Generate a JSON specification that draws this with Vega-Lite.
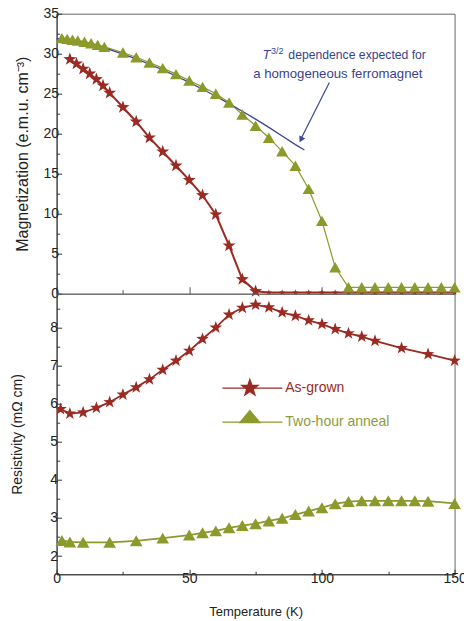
{
  "$schema": "https://vega.github.io/schema/vega-lite/v6.json",
  "padding": {"left": 9.6, "top": 5.7, "right": 0, "bottom": 1},
  "background": "white",
  "spacing": 0,
  "bounds": "flush",
  "config": {
    "font": "Liberation Sans, Arial, sans-serif",
    "view": {"stroke": "#666", "strokeWidth": 1},
    "axis": {"grid": false, "labelFontSize": 14, "labelColor": "#222", "titleFontWeight": "normal", "titleColor": "#222", "domainColor": "#333", "tickColor": "#333", "labelOverlap": false, "labelFlush": false, "minExtent": 0}
  },
  "resolve": {"scale": {"y": "independent"}, "legend": {"color": "independent"}},
  "datasets": {
    "mag": [
      {"sample": "As-grown", "T": 5, "M": 29.3},
      {"sample": "As-grown", "T": 7.5, "M": 28.75},
      {"sample": "As-grown", "T": 10, "M": 28.1},
      {"sample": "As-grown", "T": 12.5, "M": 27.5},
      {"sample": "As-grown", "T": 15, "M": 26.8},
      {"sample": "As-grown", "T": 17.5, "M": 26.0},
      {"sample": "As-grown", "T": 20, "M": 25.1},
      {"sample": "As-grown", "T": 25, "M": 23.3},
      {"sample": "As-grown", "T": 30, "M": 21.5},
      {"sample": "As-grown", "T": 35, "M": 19.5},
      {"sample": "As-grown", "T": 40, "M": 17.75},
      {"sample": "As-grown", "T": 45, "M": 16.0},
      {"sample": "As-grown", "T": 50, "M": 14.2},
      {"sample": "As-grown", "T": 55, "M": 12.3},
      {"sample": "As-grown", "T": 60, "M": 9.9},
      {"sample": "As-grown", "T": 65, "M": 6.0},
      {"sample": "As-grown", "T": 70, "M": 1.8},
      {"sample": "As-grown", "T": 75, "M": 0.3},
      {"sample": "As-grown", "T": 80, "M": 0.15},
      {"sample": "As-grown", "T": 85, "M": 0.15},
      {"sample": "As-grown", "T": 90, "M": 0.15},
      {"sample": "As-grown", "T": 95, "M": 0.15},
      {"sample": "As-grown", "T": 100, "M": 0.15},
      {"sample": "As-grown", "T": 105, "M": 0.15},
      {"sample": "As-grown", "T": 110, "M": 0.15},
      {"sample": "As-grown", "T": 115, "M": 0.15},
      {"sample": "As-grown", "T": 120, "M": 0.15},
      {"sample": "As-grown", "T": 125, "M": 0.15},
      {"sample": "As-grown", "T": 130, "M": 0.15},
      {"sample": "As-grown", "T": 135, "M": 0.15},
      {"sample": "As-grown", "T": 140, "M": 0.15},
      {"sample": "As-grown", "T": 145, "M": 0.15},
      {"sample": "As-grown", "T": 150, "M": 0.15},
      {"sample": "Two-hour anneal", "T": 2, "M": 31.95},
      {"sample": "Two-hour anneal", "T": 4, "M": 31.85},
      {"sample": "Two-hour anneal", "T": 6, "M": 31.75},
      {"sample": "Two-hour anneal", "T": 8, "M": 31.65},
      {"sample": "Two-hour anneal", "T": 10.5, "M": 31.5},
      {"sample": "Two-hour anneal", "T": 13, "M": 31.3},
      {"sample": "Two-hour anneal", "T": 15.5, "M": 31.1},
      {"sample": "Two-hour anneal", "T": 18, "M": 30.85},
      {"sample": "Two-hour anneal", "T": 25, "M": 30.15},
      {"sample": "Two-hour anneal", "T": 30, "M": 29.55},
      {"sample": "Two-hour anneal", "T": 35, "M": 28.9},
      {"sample": "Two-hour anneal", "T": 40, "M": 28.2},
      {"sample": "Two-hour anneal", "T": 45, "M": 27.45},
      {"sample": "Two-hour anneal", "T": 50, "M": 26.65},
      {"sample": "Two-hour anneal", "T": 55, "M": 25.85},
      {"sample": "Two-hour anneal", "T": 60, "M": 25.0},
      {"sample": "Two-hour anneal", "T": 65, "M": 23.9},
      {"sample": "Two-hour anneal", "T": 70, "M": 22.4},
      {"sample": "Two-hour anneal", "T": 75, "M": 21.0},
      {"sample": "Two-hour anneal", "T": 80, "M": 19.5},
      {"sample": "Two-hour anneal", "T": 85, "M": 17.8},
      {"sample": "Two-hour anneal", "T": 90, "M": 16.0},
      {"sample": "Two-hour anneal", "T": 95, "M": 13.1},
      {"sample": "Two-hour anneal", "T": 100, "M": 9.1},
      {"sample": "Two-hour anneal", "T": 105, "M": 3.3},
      {"sample": "Two-hour anneal", "T": 110, "M": 0.8},
      {"sample": "Two-hour anneal", "T": 115, "M": 0.8},
      {"sample": "Two-hour anneal", "T": 120, "M": 0.8},
      {"sample": "Two-hour anneal", "T": 125, "M": 0.8},
      {"sample": "Two-hour anneal", "T": 130, "M": 0.8},
      {"sample": "Two-hour anneal", "T": 135, "M": 0.8},
      {"sample": "Two-hour anneal", "T": 140, "M": 0.8},
      {"sample": "Two-hour anneal", "T": 145, "M": 0.8},
      {"sample": "Two-hour anneal", "T": 150, "M": 0.8}
    ],
    "fit": [
      {"T": 0, "M": 31.9}, {"T": 5, "M": 31.73}, {"T": 10, "M": 31.41}, {"T": 15, "M": 31.0},
      {"T": 20, "M": 30.51}, {"T": 25, "M": 29.96}, {"T": 30, "M": 29.35}, {"T": 35, "M": 28.68},
      {"T": 40, "M": 27.97}, {"T": 45, "M": 27.21}, {"T": 50, "M": 26.41}, {"T": 55, "M": 25.56},
      {"T": 60, "M": 24.68}, {"T": 65, "M": 23.76}, {"T": 70, "M": 22.8}, {"T": 75, "M": 21.82},
      {"T": 80, "M": 20.79}, {"T": 85, "M": 19.72}, {"T": 90, "M": 18.64}, {"T": 93.4, "M": 17.96}
    ],
    "res": [
      {"sample": "As-grown", "T": 1.5, "R": 5.86},
      {"sample": "As-grown", "T": 5, "R": 5.74},
      {"sample": "As-grown", "T": 10, "R": 5.77},
      {"sample": "As-grown", "T": 15, "R": 5.89},
      {"sample": "As-grown", "T": 20, "R": 6.04},
      {"sample": "As-grown", "T": 25, "R": 6.24},
      {"sample": "As-grown", "T": 30, "R": 6.43},
      {"sample": "As-grown", "T": 35, "R": 6.64},
      {"sample": "As-grown", "T": 40, "R": 6.89},
      {"sample": "As-grown", "T": 45, "R": 7.13},
      {"sample": "As-grown", "T": 50, "R": 7.39},
      {"sample": "As-grown", "T": 55, "R": 7.7},
      {"sample": "As-grown", "T": 60, "R": 8.0},
      {"sample": "As-grown", "T": 65, "R": 8.34},
      {"sample": "As-grown", "T": 70, "R": 8.52},
      {"sample": "As-grown", "T": 75, "R": 8.6},
      {"sample": "As-grown", "T": 80, "R": 8.53},
      {"sample": "As-grown", "T": 85, "R": 8.4},
      {"sample": "As-grown", "T": 90, "R": 8.31},
      {"sample": "As-grown", "T": 95, "R": 8.19},
      {"sample": "As-grown", "T": 100, "R": 8.09},
      {"sample": "As-grown", "T": 105, "R": 7.96},
      {"sample": "As-grown", "T": 110, "R": 7.85},
      {"sample": "As-grown", "T": 115, "R": 7.76},
      {"sample": "As-grown", "T": 120, "R": 7.65},
      {"sample": "As-grown", "T": 130, "R": 7.46},
      {"sample": "As-grown", "T": 140, "R": 7.3},
      {"sample": "As-grown", "T": 150, "R": 7.13},
      {"sample": "Two-hour anneal", "T": 2, "R": 2.41},
      {"sample": "Two-hour anneal", "T": 5, "R": 2.37},
      {"sample": "Two-hour anneal", "T": 10, "R": 2.36},
      {"sample": "Two-hour anneal", "T": 20, "R": 2.36},
      {"sample": "Two-hour anneal", "T": 30, "R": 2.4},
      {"sample": "Two-hour anneal", "T": 40, "R": 2.47},
      {"sample": "Two-hour anneal", "T": 50, "R": 2.55},
      {"sample": "Two-hour anneal", "T": 55, "R": 2.61},
      {"sample": "Two-hour anneal", "T": 60, "R": 2.66},
      {"sample": "Two-hour anneal", "T": 65, "R": 2.74},
      {"sample": "Two-hour anneal", "T": 70, "R": 2.8},
      {"sample": "Two-hour anneal", "T": 75, "R": 2.85},
      {"sample": "Two-hour anneal", "T": 80, "R": 2.92},
      {"sample": "Two-hour anneal", "T": 85, "R": 2.99},
      {"sample": "Two-hour anneal", "T": 90, "R": 3.09},
      {"sample": "Two-hour anneal", "T": 95, "R": 3.18},
      {"sample": "Two-hour anneal", "T": 100, "R": 3.27},
      {"sample": "Two-hour anneal", "T": 105, "R": 3.37},
      {"sample": "Two-hour anneal", "T": 110, "R": 3.43},
      {"sample": "Two-hour anneal", "T": 115, "R": 3.45},
      {"sample": "Two-hour anneal", "T": 120, "R": 3.45},
      {"sample": "Two-hour anneal", "T": 125, "R": 3.45},
      {"sample": "Two-hour anneal", "T": 130, "R": 3.45},
      {"sample": "Two-hour anneal", "T": 135, "R": 3.45},
      {"sample": "Two-hour anneal", "T": 140, "R": 3.44},
      {"sample": "Two-hour anneal", "T": 150, "R": 3.38}
    ]
  },
  "vconcat": [
    {
      "width": 398,
      "height": 280,
      "encoding": {
        "x": {"field": "T", "type": "quantitative", "scale": {"domain": [0, 150], "nice": false, "zero": false},
          "axis": {"values": [0, 25, 50, 75, 100, 125, 150], "labels": false, "title": null, "domain": false,
            "tickSize": {"condition": {"test": "datum.value % 50 === 0", "value": -7}, "value": -4}, "tickColor": "#555"}},
        "y": {"field": "M", "type": "quantitative", "scale": {"domain": [0, 35], "nice": false},
          "axis": {"values": [0, 2.5, 5, 7.5, 10, 12.5, 15, 17.5, 20, 22.5, 25, 27.5, 30, 32.5, 35],
            "labelExpr": "datum.value % 5 === 0 ? format(datum.value, 'd') : ''",
            "tickSize": {"condition": {"test": "datum.value % 5 === 0", "value": -5}, "value": -3},
            "labelPadding": 3, "title": "Magnetization (e.m.u. cm⁻³)", "titleFontSize": 16, "titlePadding": 12.6}}
      },
      "layer": [
        {
          "data": {"name": "mag"},
          "transform": [{"filter": "datum.sample === 'As-grown'"}],
          "mark": {"type": "line", "color": "#9b2a23", "strokeWidth": 2},
          "encoding": {}
        },
        {
          "data": {"name": "mag"},
          "transform": [{"filter": "datum.sample === 'Two-hour anneal'"}],
          "mark": {"type": "line", "color": "#8c9a2c", "strokeWidth": 1.2},
          "encoding": {}
        },
        {
          "data": {"name": "fit"},
          "mark": {"type": "line", "color": "#3a4696", "strokeWidth": 1.3},
          "encoding": {}
        },
        {
          "data": {"name": "mag"},
          "transform": [{"filter": "datum.sample === 'As-grown' && datum.T <= 75"}],
          "mark": {"type": "point", "filled": true, "opacity": 1, "size": 187, "color": "#9b2a23", "shape": "M0,-1L0.235,-0.324L0.951,-0.309L0.38,0.124L0.588,0.809L0,0.4L-0.588,0.809L-0.38,0.124L-0.951,-0.309L-0.235,-0.324Z"},
          "encoding": {}
        },
        {
          "data": {"name": "mag"},
          "transform": [{"filter": "datum.sample === 'As-grown' && datum.T > 75"}],
          "mark": {"type": "point", "filled": true, "opacity": 1, "size": 40, "color": "#9b2a23", "shape": "M0,-1L0.235,-0.324L0.951,-0.309L0.38,0.124L0.588,0.809L0,0.4L-0.588,0.809L-0.38,0.124L-0.951,-0.309L-0.235,-0.324Z"},
          "encoding": {}
        },
        {
          "data": {"name": "mag"},
          "transform": [{"filter": "datum.sample === 'Two-hour anneal'"}],
          "mark": {"type": "point", "filled": true, "opacity": 1, "size": 144, "color": "#8c9a2c", "shape": "triangle-up"},
          "encoding": {}
        },
        {
          "data": {"values": [{"T": 102.8, "M": 26.4, "T2": 92.3, "M2": 19.5}]},
          "mark": {"type": "rule", "color": "#3a4696", "strokeWidth": 1.2},
          "encoding": {"x2": {"field": "T2"}, "y2": {"field": "M2"}}
        },
        {
          "data": {"values": [{"T": 92.1, "M": 19.26}]},
          "mark": {"type": "point", "shape": "triangle-up", "angle": 207, "filled": true, "opacity": 1, "size": 45, "color": "#3a4696"},
          "encoding": {}
        },
        {
          "data": {"values": [{"T": 80.6, "M": 29.34, "note": "T"}]},
          "mark": {"type": "text", "align": "right", "baseline": "alphabetic", "fontStyle": "italic", "fontSize": 13, "color": "#3a3f8f"},
          "encoding": {"text": {"field": "note"}}
        },
        {
          "data": {"values": [{"T": 80.8, "M": 29.95, "note": "3/2"}]},
          "mark": {"type": "text", "align": "left", "baseline": "alphabetic", "fontSize": 9, "color": "#3a3f8f"},
          "encoding": {"text": {"field": "note"}}
        },
        {
          "data": {"values": [{"T": 139.2, "M": 29.34, "note": "dependence expected for"}]},
          "mark": {"type": "text", "align": "right", "baseline": "alphabetic", "fontSize": 12.2, "color": "#3a3f8f"},
          "encoding": {"text": {"field": "note"}}
        },
        {
          "data": {"values": [{"T": 137.9, "M": 27.0, "note": "a homogeneous ferromagnet"}]},
          "mark": {"type": "text", "align": "right", "baseline": "alphabetic", "fontSize": 13.2, "color": "#3a3f8f"},
          "encoding": {"text": {"field": "note"}}
        }
      ]
    },
    {
      "width": 398,
      "height": 280.6,
      "encoding": {
        "x": {"field": "T", "type": "quantitative", "scale": {"domain": [0, 150], "nice": false, "zero": false},
          "axis": {"values": [0, 25, 50, 75, 100, 125, 150], "labelExpr": "datum.value % 50 === 0 ? format(datum.value, 'd') : ''",
            "tickSize": {"condition": {"test": "datum.value % 50 === 0", "value": -5}, "value": -3},
            "labelPadding": 2.5, "title": "Temperature (K)", "titleFontSize": 13, "titlePadding": 17.5}},
        "y": {"field": "R", "type": "quantitative", "scale": {"domain": [1.52, 8.89], "nice": false, "zero": false},
          "axis": {"values": [2, 2.5, 3, 3.5, 4, 4.5, 5, 5.5, 6, 6.5, 7, 7.5, 8, 8.5],
            "labelExpr": "datum.value % 1 === 0 ? format(datum.value, 'd') : ''",
            "tickSize": {"condition": {"test": "datum.value % 1 === 0", "value": -5}, "value": -3},
            "labelPadding": 4, "title": "Resistivity (mΩ cm)", "titleFontSize": 14, "titlePadding": 25}}
      },
      "layer": [
        {
          "data": {"name": "res"},
          "mark": {"type": "line", "strokeWidth": 1.8},
          "encoding": {
            "color": {"field": "sample", "type": "nominal", "scale": {"domain": ["As-grown", "Two-hour anneal"], "range": ["#9b2a23", "#8c9a2c"]},
              "legend": {"orient": "none", "legendX": 186.3, "legendY": 87.4, "title": null, "padding": 0, "symbolSize": 100, "symbolStrokeWidth": 1.3, "labelFontSize": 14, "labelOffset": 28.4, "rowPadding": 9,
                "encode": {
                  "symbols": {"update": {
                    "shape": [{"test": "datum.value === 'As-grown'", "value": "M-5.5,0H6.5M0,-1.7L0.4,-0.551L1.617,-0.525L0.646,0.211L1,1.375L0,0.68L-1,1.375L-0.646,0.211L-1.617,-0.525L-0.4,-0.551Z"}, {"value": "M-5.5,0H6.5M0,-2.3L2,0.1L-2,0.1Z"}],
                    "fill": [{"test": "datum.value === 'As-grown'", "value": "#9b2a23"}, {"value": "#8c9a2c"}],
                    "stroke": [{"test": "datum.value === 'As-grown'", "value": "#9b2a23"}, {"value": "#8c9a2c"}],
                    "strokeWidth": {"value": 1.3},
                    "opacity": {"value": 1}
                  }},
                  "labels": {"update": {
                    "fill": [{"test": "datum.value === 'As-grown'", "value": "#9b2a23"}, {"value": "#8e9a3c"}]
                  }}
                }}}
          }
        },
        {
          "data": {"name": "res"},
          "transform": [{"filter": "datum.sample === 'As-grown'"}],
          "mark": {"type": "point", "filled": true, "opacity": 1, "size": 175, "shape": "M0,-1L0.235,-0.324L0.951,-0.309L0.38,0.124L0.588,0.809L0,0.4L-0.588,0.809L-0.38,0.124L-0.951,-0.309L-0.235,-0.324Z", "color": "#9b2a23"},
          "encoding": {}
        },
        {
          "data": {"name": "res"},
          "transform": [{"filter": "datum.sample === 'Two-hour anneal'"}],
          "mark": {"type": "point", "filled": true, "opacity": 1, "size": 160, "shape": "triangle-up", "color": "#8c9a2c"},
          "encoding": {}
        }
      ]
    }
  ]
}
